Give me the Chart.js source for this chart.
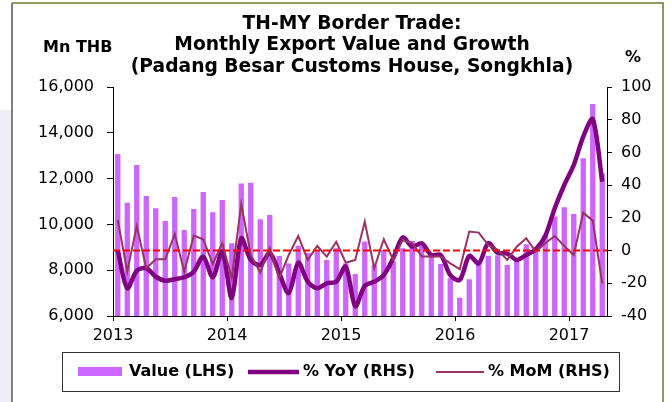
<!DOCTYPE html>
<html>
<head>
<meta charset="utf-8">
<script src="https://cdn.jsdelivr.net/npm/chart.js@4.4.1/dist/chart.umd.min.js"></script>
<style>
    html, body { margin: 0; padding: 0; background: #fff; }
    #wrap { width: 672px; height: 402px; }
</style>
</head>
<body>
<div id="wrap"><canvas id="chart" width="672" height="402"></canvas></div>
<script>
// 数据：2013年1月 - 2017年4月，每月一个值
const yearLabels = ['2013', '2014', '2015', '2016', '2017'];

// 出口额（百万泰铢，左轴）
const valueMn = [
    13070, 10950, 12590, 11240, 10700, 10150, 11200, 9760, 10670, 11420, 10530, 11070,
    9180, 11790, 11820, 10220, 10410, 8620, 8290, 9070, 8750, 8850, 8450, 8960,
    8290, 7830, 9250, 8230, 8880, 8390, 8960, 9280, 9100, 8740, 8270, 7650,
    6800, 7600, 8330, 8620, 8650, 8230, 8450, 9130, 9000, 9540, 10340, 10750,
    10450, 12890, 15260, 12230
];

// 同比 %（右轴）
const yoyPct = [
    0, -23, -12.3, -10.8, -16, -18.4, -17.5, -16.3, -12.9, -3.7, -16.3, -0.6,
    -29, 7.5, -5.7, -8.8, -1.4, -13.9, -26, -7.4, -19, -23, -20, -19,
    -9.8, -34, -21.6, -19, -15, -4.7, 8.1, 2.4, 4.5, -2.7, -2.7, -15,
    -18, -3.3, -7.8, 4.5, -1.4, -1.8, -5.7, -2.7, 0.8, 8.9, 25.9, 40.1,
    52.3, 69.6, 80.3, 42.1
];

// 环比 %（右轴）
const momPct = [
    18.7, -12.9, 15, -10.8, -5.3, -5.3, 10.1, -12.9, 9.1, 6.9, -8.2, 4.5,
    -16.9, 28.5, -2.7, -13.5, 1.4, -16.9, -2.7, 8.9, -5.7, 2.8, -3.7, 5.4,
    -7.4, -5.7, 17.7, -10.8, 6.9, -5.7, 6.5, 4.5, -3.7, -3.7, -3.7, -7.8,
    -11.4, 11.6, 11, 3.4, 0.4, -5.7, 2.4, 7.5, -0.6, 4.5, 8.9, 2.8,
    -2.7, 23.2, 18.3, -20
];

const titleLines = [
    'TH-MY Border Trade:',
    'Monthly Export Value and Growth',
    '(Padang Besar Customs House, Songkhla)'
];

const COLORS = {
    bar: '#CC66FF',
    yoy: '#800080',
    mom: '#993366',
    zero: '#FF0000'
};

// 每个月放在格子中间
const toPoints = arr => arr.map((v, i) => ({ x: i + 0.5, y: v }));

const FONT = '"DejaVu Sans", sans-serif';

// 标题、单位、图例框和外框
const decorPlugin = {
    id: 'decor',
    beforeDraw(chart) {
        const ctx = chart.ctx;
        ctx.save();
        ctx.fillStyle = '#fff';
        ctx.fillRect(0, 0, chart.width, chart.height);
        // 左侧淡紫色背景
        ctx.fillStyle = '#eeeef6';
        ctx.fillRect(0, 110, 11, 292);
        ctx.restore();
    },
    afterDraw(chart) {
        const ctx = chart.ctx;
        ctx.save();
        ctx.fillStyle = '#000';
        ctx.textBaseline = 'middle';

        // 标题
        ctx.font = 'bold 18.7px ' + FONT;
        ctx.textAlign = 'center';
        titleLines.forEach((line, i) => ctx.fillText(line, 352, 24 + i * 21.5));

        // 单位
        ctx.font = 'bold 16px ' + FONT;
        ctx.textAlign = 'left';
        ctx.fillText('Mn THB', 43, 48);
        ctx.textAlign = 'center';
        ctx.fillText('%', 633, 58);

        // 图例
        ctx.strokeStyle = '#333';
        ctx.lineWidth = 1;
        ctx.strokeRect(62.5, 352.5, 557, 39);

        ctx.textAlign = 'left';
        ctx.fillStyle = COLORS.bar;
        ctx.fillRect(78, 367, 44, 9);
        ctx.fillStyle = '#000';
        ctx.fillText('Value (LHS)', 129, 372);

        ctx.strokeStyle = COLORS.yoy;
        ctx.lineWidth = 4.5;
        ctx.beginPath(); ctx.moveTo(248, 372); ctx.lineTo(299, 372); ctx.stroke();
        ctx.fillText('% YoY (RHS)', 303, 372);

        ctx.strokeStyle = COLORS.mom;
        ctx.lineWidth = 2;
        ctx.beginPath(); ctx.moveTo(436, 372); ctx.lineTo(484, 372); ctx.stroke();
        ctx.fillText('% MoM (RHS)', 488, 372);

        // 外框
        ctx.lineWidth = 1.5;
        ctx.strokeStyle = '#555';
        ctx.beginPath(); ctx.moveTo(12, 3); ctx.lineTo(12, 402); ctx.stroke();
        ctx.strokeStyle = '#6b7a2a';
        ctx.beginPath(); ctx.moveTo(12, 3); ctx.lineTo(663, 3); ctx.lineTo(663, 402); ctx.stroke();
        ctx.restore();
    }
};

Chart.defaults.font.family = FONT;
Chart.defaults.font.size = 16;
Chart.defaults.color = '#000';

const axisGrid = {
    display: true,
    drawOnChartArea: false,
    drawTicks: true,
    tickLength: 6,
    color: '#000'
};

new Chart(document.getElementById('chart').getContext('2d'), {
    data: {
        datasets: [
            {
                type: 'line',
                label: 'zero',
                data: [{ x: 0, y: 0 }, { x: valueMn.length, y: 0 }],
                yAxisID: 'y1',
                borderColor: COLORS.zero,
                borderWidth: 2,
                borderDash: [7, 3],
                pointRadius: 0,
                order: 0
            },
            {
                type: 'line',
                label: '% MoM (RHS)',
                data: toPoints(momPct),
                yAxisID: 'y1',
                borderColor: COLORS.mom,
                borderWidth: 2,
                pointRadius: 0,
                tension: 0,
                order: 1
            },
            {
                type: 'line',
                label: '% YoY (RHS)',
                data: toPoints(yoyPct),
                yAxisID: 'y1',
                borderColor: COLORS.yoy,
                borderWidth: 4.5,
                pointRadius: 0,
                tension: 0.3,
                order: 2
            },
            {
                type: 'bar',
                label: 'Value (LHS)',
                data: toPoints(valueMn),
                yAxisID: 'y',
                backgroundColor: COLORS.bar,
                categoryPercentage: 1,
                barPercentage: 0.56,
                order: 3
            }
        ]
    },
    options: {
        responsive: false,
        animation: false,
        devicePixelRatio: 1,
        layout: { padding: { top: 87, left: 0, right: 0, bottom: 0 } },
        plugins: {
            legend: { display: false },
            title: { display: false },
            tooltip: { enabled: false }
        },
        scales: {
            x: {
                type: 'linear',
                min: 0,
                max: valueMn.length,
                offset: false,
                grid: Object.assign({}, axisGrid, { offset: false, tickLength: 5 }),
                border: { display: true, color: '#000', width: 1 },
                ticks: {
                    stepSize: 12,
                    includeBounds: false,
                    autoSkip: false,
                    maxRotation: 0,
                    padding: 5,
                    callback: v => (v % 12 === 0 ? yearLabels[v / 12] : '')
                },
                afterFit(scale) { scale.height = 86; }
            },
            y: {
                type: 'linear',
                position: 'left',
                min: 6000,
                max: 16000,
                grid: axisGrid,
                border: { display: true, color: '#000', width: 1 },
                ticks: {
                    stepSize: 2000,
                    padding: 13,
                    callback: v => v.toLocaleString('en-US')
                },
                afterFit(scale) { scale.width = 113; }
            },
            y1: {
                type: 'linear',
                position: 'right',
                min: -40,
                max: 100,
                grid: Object.assign({}, axisGrid, { tickLength: 5 }),
                border: { display: true, color: '#000', width: 1 },
                ticks: {
                    stepSize: 20,
                    padding: 9
                },
                afterFit(scale) { scale.width = 65; }
            }
        }
    },
    plugins: [decorPlugin]
});
</script>
</body>
</html>
